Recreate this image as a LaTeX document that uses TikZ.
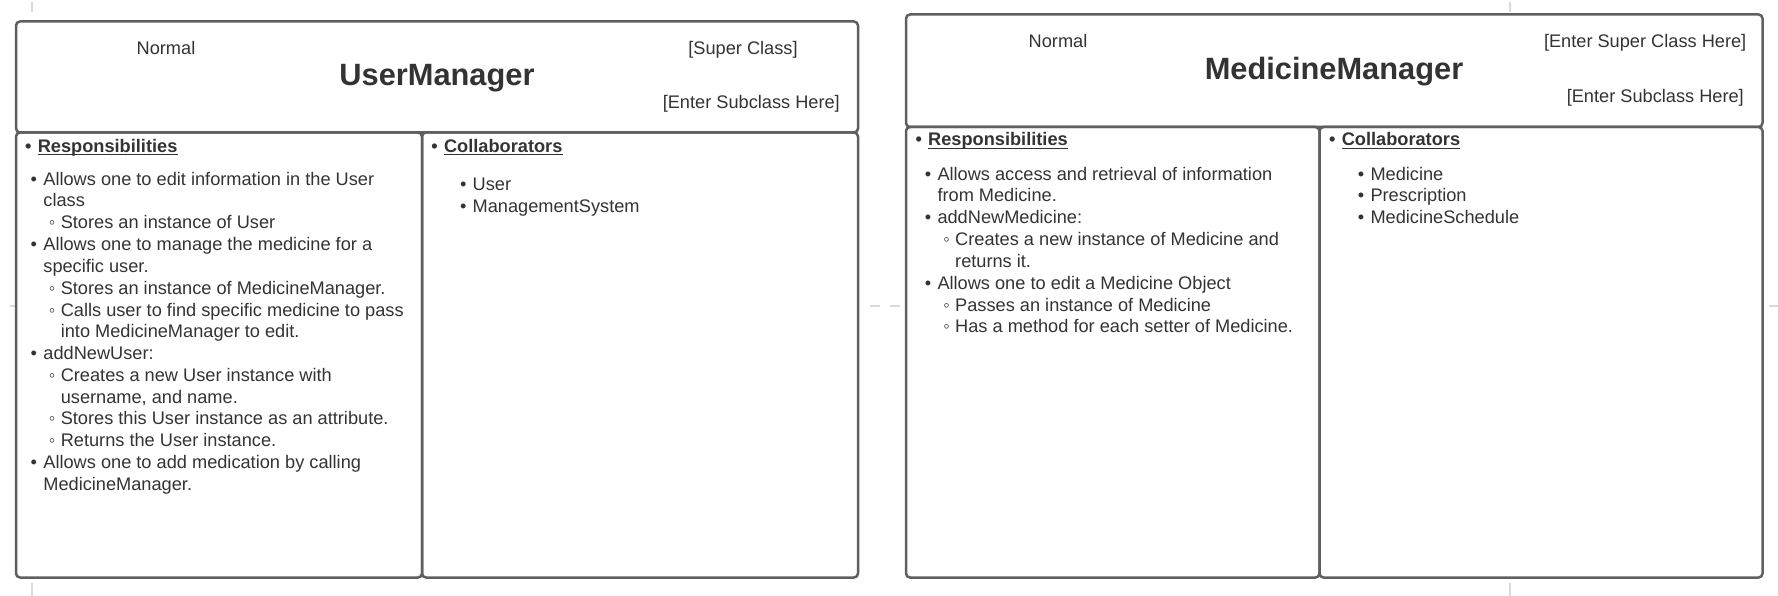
\documentclass[tikz,border=0pt]{standalone}
\usepackage{fontspec}
\setmainfont{Liberation Sans}
\definecolor{ink}{HTML}{333333}
\definecolor{frame}{HTML}{5F5F5F}
\definecolor{guide}{HTML}{DADADA}
\newcommand{\blt}{\llap{•\hspace{6.3pt}}}
\newcommand{\sblt}{\llap{◦\hspace{5.4pt}}}
\tikzset{
  card/.style={draw=frame,line width=2.5pt,rounded corners=4pt},
  txt/.style={anchor=base west,inner sep=0pt,text=ink,font=\fontsize{18.2}{21.8}\selectfont},
  head/.style={txt,font=\fontsize{18.2}{21.8}\selectfont\bfseries},
  title/.style={anchor=base,inner sep=0pt,text=ink,font=\fontsize{30.8}{36}\selectfont\bfseries},
  ul/.style={draw=ink,line width=1.4pt},
  tick/.style={draw=guide,line width=2pt}
}
\begin{document}
\begin{tikzpicture}[x=1pt,y=-1pt,line join=round]
  \useasboundingbox (0,0) rectangle (1778,596);
  \coordinate (g1a) at (32,2);     \coordinate (g1b) at (32,12);
  \coordinate (g2a) at (32,583);   \coordinate (g2b) at (32,596);
  \coordinate (g3a) at (10,306);   \coordinate (g3b) at (16,306);
  \coordinate (g4a) at (870,306);  \coordinate (g4b) at (880,306);
  \coordinate (g5a) at (890,306);  \coordinate (g5b) at (900,306);
  \coordinate (g6a) at (1510,2);   \coordinate (g6b) at (1510,12);
  \coordinate (g7a) at (1510,583); \coordinate (g7b) at (1510,596);
  \coordinate (g8a) at (1769,306); \coordinate (g8b) at (1778,306);
  \foreach \g in {g1,g2,g3,g4,g5,g6,g7,g8}
    \draw[tick] (\g a)--(\g b);

  \draw[card] (16,21.5) rectangle (858,132.5);
  \draw[card] (16,132.5) rectangle (422,577.5);
  \draw[card] (422,132.5) rectangle (858,577.5);

  \node[txt,anchor=base] (unorm) at (166,54.2) {Normal};
  \node[title] (um) at (437,86) {UserManager};
  \node[txt,anchor=base] (usup) at (743,54.2) {[Super Class]};
  \node[txt,anchor=base east] (usub) at (840,108.7) {[Enter Subclass Here]};

  \node[head] (uresp) at (37.6,152.2) {\blt Responsibilities};
  \draw[ul] ([yshift=-2.6pt]uresp.base west)--([yshift=-2.6pt]uresp.base east);
  \node[txt] (ur1) at (43.2,185.2) {\blt Allows one to edit information in the User};
  \node[txt] (ur2) at (43.2,207) {class};
  \node[txt] (ur3) at (60.6,228.8) {\sblt Stores an instance of User};
  \node[txt] (ur4) at (43.2,250.5) {\blt Allows one to manage the medicine for a};
  \node[txt] (ur5) at (43.2,272.3) {specific user.};
  \node[txt] (ur6) at (60.6,294.1) {\sblt Stores an instance of MedicineManager.};
  \node[txt] (ur7) at (60.6,316) {\sblt Calls user to find specific medicine to pass};
  \node[txt] (ur8) at (60.6,337.8) {into MedicineManager to edit.};
  \node[txt] (ur9) at (43.2,359.5) {\blt addNewUser:};
  \node[txt] (ur10) at (60.6,381.3) {\sblt Creates a new User instance with};
  \node[txt] (ur11) at (60.6,403.1) {username, and name.};
  \node[txt] (ur12) at (60.6,424.9) {\sblt Stores this User instance as an attribute.};
  \node[txt] (ur13) at (60.6,446.7) {\sblt Returns the User instance.};
  \node[txt] (ur14) at (43.2,468.5) {\blt Allows one to add medication by calling};
  \node[txt] (ur15) at (43.2,490.3) {MedicineManager.};

  \node[head] (ucoll) at (443.9,152.2) {\blt Collaborators};
  \draw[ul] ([yshift=-2.6pt]ucoll.base west)--([yshift=-2.6pt]ucoll.base east);
  \node[txt] (uc1) at (472.5,190.8) {\blt User};
  \node[txt] (uc2) at (472.5,212.6) {\blt ManagementSystem};

  \draw[card] (906,14.5) rectangle (1762.5,127);
  \draw[card] (906,127) rectangle (1319.5,577.5);
  \draw[card] (1319.5,127) rectangle (1762.5,577.5);

  \node[txt,anchor=base] (mnorm) at (1058,47.2) {Normal};
  \node[title] (mm) at (1334,79.7) {MedicineManager};
  \node[txt,anchor=base east] (msup) at (1746.5,47.2) {[Enter Super Class Here]};
  \node[txt,anchor=base east] (msub) at (1744,102.7) {[Enter Subclass Here]};

  \node[head] (mresp) at (928,145.8) {\blt Responsibilities};
  \draw[ul] ([yshift=-2.6pt]mresp.base west)--([yshift=-2.6pt]mresp.base east);
  \node[txt] (mr1) at (937.3,180.2) {\blt Allows access and retrieval of information};
  \node[txt] (mr2) at (937.3,202) {from Medicine.};
  \node[txt] (mr3) at (937.3,223.8) {\blt addNewMedicine:};
  \node[txt] (mr4) at (955,245.6) {\sblt Creates a new instance of Medicine and};
  \node[txt] (mr5) at (955,267.4) {returns it.};
  \node[txt] (mr6) at (937.3,289.2) {\blt Allows one to edit a Medicine Object};
  \node[txt] (mr7) at (955,311) {\sblt Passes an instance of Medicine};
  \node[txt] (mr8) at (955,332.8) {\sblt Has a method for each setter of Medicine.};

  \node[head] (mcoll) at (1341.6,145.8) {\blt Collaborators};
  \draw[ul] ([yshift=-2.6pt]mcoll.base west)--([yshift=-2.6pt]mcoll.base east);
  \node[txt] (mc1) at (1370.3,180.2) {\blt Medicine};
  \node[txt] (mc2) at (1370.3,202) {\blt Prescription};
  \node[txt] (mc3) at (1370.3,223.8) {\blt MedicineSchedule};
\end{tikzpicture}
\end{document}
